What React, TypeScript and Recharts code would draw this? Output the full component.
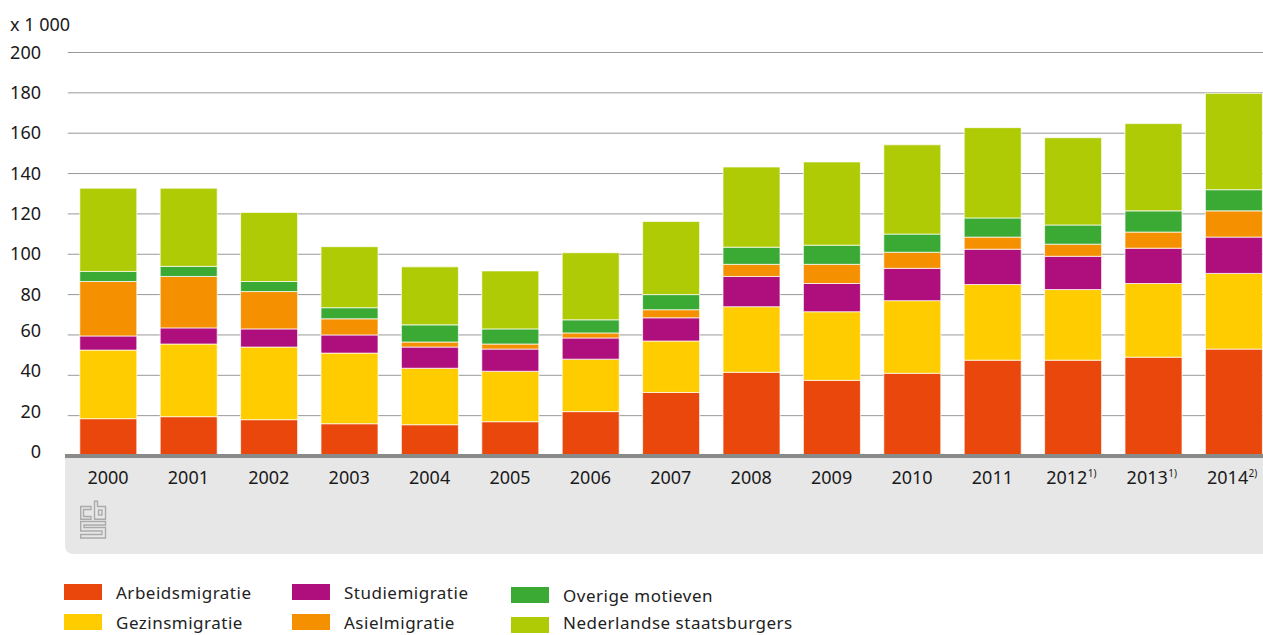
import React from "react";
import { BarChart, Bar, XAxis, YAxis, CartesianGrid } from "recharts";

const years = ["2000","2001","2002","2003","2004","2005","2006","2007","2008","2009","2010","2011","2012","2013","2014"];
const notes = ["","","","","","","","","","","","","1)","1)","2)"];
const arbeid = [18.5,19.5,18,16,15.5,17,22,31.5,41.5,37.5,41,47.5,47.5,49,53];
const gezin = [34,36,36,35,28,25,26,25.5,32.5,34,36,37.5,35,36.5,37.5];
const studie = [7,8,9,9,10.5,11,10.5,11.5,15,14,16,17.5,16.5,17.5,18];
const asiel = [27,25.5,18.5,8,2.5,2.5,2.5,4,6,9.5,8,6,6,8,13];
const overig = [5,5,5,5.5,8.5,7.5,6.5,7.5,8.5,9.5,9,9.5,9.5,10.5,10.5];
const nederlands = [41.25,38.75,34.25,30.25,28.75,28.75,33.25,36.25,39.75,41.25,44.25,44.75,43.25,43.25,47.75];
const yTicks = [0,20,40,60,80,100,120,140,160,180,200];

const seriesList = [
  { key: "arbeid", name: "Arbeidsmigratie", color: "#e9470c", values: arbeid },
  { key: "gezin", name: "Gezinsmigratie", color: "#ffcc00", values: gezin },
  { key: "studie", name: "Studiemigratie", color: "#af0f7d", values: studie },
  { key: "asiel", name: "Asielmigratie", color: "#f59100", values: asiel },
  { key: "overig", name: "Overige motieven", color: "#3aaa35", values: overig },
  { key: "nederlands", name: "Nederlandse staatsburgers", color: "#afcb05", values: nederlands },
];

const data = years.map((year, i) => {
  const row: Record<string, any> = { year };
  seriesList.forEach((s) => { row[s.key] = s.values[i]; });
  return row;
});

const FONT = "'Noto Sans', sans-serif";
const TEXT = "#1a1a1a";

const XTick = (props: any) => {
  const { x, y, payload, index } = props;
  const note = notes[index] ?? "";
  const cx = note ? x - 6 : x;
  return (
    <g>
      <text x={cx} y={y} textAnchor="middle" fontFamily={FONT} fontSize={18} fill={TEXT}>{payload.value}</text>
      {note ? <text x={cx + 21} y={y - 7} fontFamily={FONT} fontSize={10} fill={TEXT}>{note}</text> : null}
    </g>
  );
};

const YTick = (props: any) => {
  const { x, y, payload } = props;
  const shift = payload.value <= 60 ? -4 : 0;
  return (
    <text x={x} y={y + shift + 6} textAnchor="end" fontFamily={FONT} fontSize={18} fill={TEXT}>{payload.value}</text>
  );
};

const LegendItem = ({ left, top, color, name, textTop }: any) => (
  <div style={{ position: "absolute", left, top, height: 16, whiteSpace: "nowrap" }}>
    <div style={{ position: "absolute", left: 0, top: 0, width: 38, height: 16, background: color }} />
    <div style={{ position: "absolute", left: 52, top: textTop, fontFamily: FONT, fontSize: 17, lineHeight: "18px", letterSpacing: 0.5, color: "#222" }}>{name}</div>
  </div>
);

const legendSpots = [
  [64, 584, 0], [64, 614, 0], [292, 584, 0], [292, 614, 0], [511, 587, 0], [511, 617, -3],
];

const ChartLegend = () => (
  <div style={{ position: "absolute", left: 0, top: 0, width: 0, height: 0 }}>
    {seriesList.map((s, i) => (
      <LegendItem key={s.key} left={legendSpots[i][0]} top={legendSpots[i][1]} textTop={legendSpots[i][2]} color={s.color} name={s.name} />
    ))}
  </div>
);

const Logo = () => (
  <svg width={27} height={40} viewBox="0 0 27 40" style={{ position: "absolute", left: 80, top: 500 }}>
    <g fill="none" stroke="#aaaaaa" strokeWidth={1.4}>
      <path d="M11 6.5H0.7V19.3H11V16.5H3.5V9.5H11Z" />
      <path d="M14.5 1.2H17.5V6.5H25.5V19.3H14.5Z" />
      <rect x={18.5} y={10} width={3.5} height={5} />
      <path d="M0.7 21.5H25.5V25H4V27.5H25.5V38H0.7V34.5H22V31H0.7Z" />
    </g>
  </svg>
);

export default function App() {
  return (
    <div style={{ position: "fixed", left: 0, top: 0, width: 1263, height: 635, overflow: "hidden", background: "#fff" }}>
      <div style={{ position: "absolute", left: 65, top: 456, width: 1198, height: 98, background: "#e7e7e7", borderBottomLeftRadius: 8 }} />
      <Logo />
      <div style={{ position: "absolute", left: 10, top: 12, fontFamily: FONT, fontSize: 18, lineHeight: "24px", color: TEXT }}>x 1 000</div>
      <div style={{ position: "absolute", left: 0, top: 0 }}>
        <BarChart
          width={1290}
          height={635}
          data={data}
          barCategoryGap={0}
          margin={{ top: 52.5, right: 16.2, bottom: 119, left: 0 }}
        >
          <CartesianGrid vertical={false} stroke="#999999" strokeWidth={1} />
          <XAxis dataKey="year" axisLine={false} tickLine={false} tick={<XTick />} interval={0} tickMargin={22} height={60} />
          <YAxis type="number" domain={[0, 200]} ticks={yTicks} width={67.8} axisLine={false} tickLine={false} tick={<YTick />} tickMargin={20.8} interval={0} />
          {seriesList.map((s) => (
            <Bar key={s.key} dataKey={s.key} name={s.name} stackId="a" fill={s.color} stroke="#ffffff" strokeOpacity={0.7} strokeWidth={1} barSize={57} isAnimationActive={false} />
          ))}
        </BarChart>
      </div>
      <div style={{ position: "absolute", left: 65, top: 454, width: 1198, height: 4, background: "#8a8a89" }} />
      <ChartLegend />
    </div>
  );
}
